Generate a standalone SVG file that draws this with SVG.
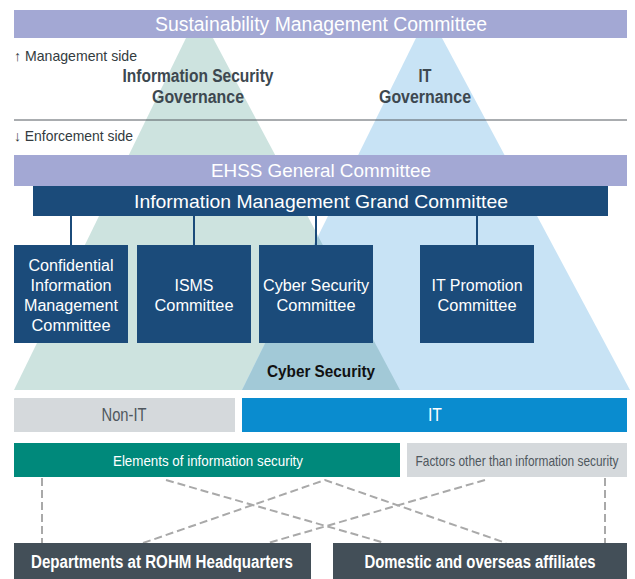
<svg xmlns="http://www.w3.org/2000/svg" width="635" height="579" viewBox="0 0 635 579">
<style>
text{font-family:"Liberation Sans",Arial,sans-serif;dominant-baseline:central;text-anchor:middle}
.w{fill:#ffffff}
.lav{fill:#a3a8d4}
.db{fill:#1b4b7a}
.gov{fill:#3d4850;font-weight:bold;font-size:17.5px}
.side{fill:#333b40;font-size:14.5px;text-anchor:start}
.box{fill:#ffffff;font-size:16px}
.conn{stroke:#1b4b7a;stroke-width:2;fill:none}
.dash{stroke:#a9a9a9;stroke-width:2;stroke-dasharray:8 4;fill:none}
</style>
<g id="background">
<polygon points="186,38 213,38 400,390 14,390" fill="#cde3df"/>
<polygon points="416,38 442,38 630,390 242,390" fill="#c8e3f5"/>
<polygon points="318,236 400,390 242,390" fill="#a2c9d7"/>
</g>
<g id="sustainability">
<rect x="14" y="10" width="613" height="28" class="lav"/>
<text x="321" y="24" class="w" font-size="19.5" textLength="332" lengthAdjust="spacingAndGlyphs">Sustainability Management Committee</text>
</g>
<g id="labels">
<text x="14" y="56" class="side" textLength="123" lengthAdjust="spacingAndGlyphs">↑ Management side</text>
<text x="198" y="76" class="gov" textLength="151" lengthAdjust="spacingAndGlyphs">Information Security</text>
<text x="198" y="97" class="gov" textLength="92" lengthAdjust="spacingAndGlyphs">Governance</text>
<text x="425" y="76" class="gov" textLength="13" lengthAdjust="spacingAndGlyphs">IT</text>
<text x="425" y="97" class="gov" textLength="92" lengthAdjust="spacingAndGlyphs">Governance</text>
<line x1="14" y1="120" x2="627" y2="120" stroke="#555b60" stroke-width="1"/>
<text x="14" y="136" class="side" textLength="119" lengthAdjust="spacingAndGlyphs">↓ Enforcement side</text>
</g>
<g id="ehss">
<rect x="14" y="155" width="613" height="31" class="lav"/>
<text x="321" y="170" class="w" font-size="18.5" textLength="220" lengthAdjust="spacingAndGlyphs">EHSS General Committee</text>
</g>
<g id="grand">
<rect x="33" y="186" width="575" height="30" class="db"/>
<text x="321" y="201" class="w" font-size="18.5" textLength="374" lengthAdjust="spacingAndGlyphs">Information Management Grand Committee</text>
</g>
<g id="connectors">
<line x1="71" y1="216" x2="71" y2="245" class="conn"/>
<line x1="194" y1="216" x2="194" y2="245" class="conn"/>
<line x1="316" y1="216" x2="316" y2="245" class="conn"/>
<line x1="477" y1="216" x2="477" y2="245" class="conn"/>
<line x1="42" y1="478" x2="42" y2="543" class="dash"/>
<line x1="605" y1="478" x2="605" y2="543" class="dash"/>
<line x1="166" y1="480" x2="385" y2="543" class="dash"/>
<polyline points="143,543 325,480 506,543" class="dash"/>
<line x1="485" y1="480" x2="268" y2="543" class="dash"/>
</g>
<g id="confidential">
<rect x="14" y="245" width="114" height="98" class="db"/>
<text x="71" y="265" class="box" textLength="85" lengthAdjust="spacingAndGlyphs">Confidential</text>
<text x="71" y="285" class="box" textLength="81" lengthAdjust="spacingAndGlyphs">Information</text>
<text x="71" y="305" class="box" textLength="94" lengthAdjust="spacingAndGlyphs">Management</text>
<text x="71" y="325" class="box" textLength="79" lengthAdjust="spacingAndGlyphs">Committee</text>
</g>
<g id="isms">
<rect x="137" y="245" width="114" height="98" class="db"/>
<text x="194" y="285" class="box" textLength="39" lengthAdjust="spacingAndGlyphs">ISMS</text>
<text x="194" y="305" class="box" textLength="79" lengthAdjust="spacingAndGlyphs">Committee</text>
</g>
<g id="cyber">
<rect x="259" y="245" width="114" height="98" class="db"/>
<text x="316" y="285" class="box" textLength="106" lengthAdjust="spacingAndGlyphs">Cyber Security</text>
<text x="316" y="305" class="box" textLength="79" lengthAdjust="spacingAndGlyphs">Committee</text>
</g>
<g id="itpromo">
<rect x="420" y="245" width="114" height="98" class="db"/>
<text x="477" y="285" class="box" textLength="91" lengthAdjust="spacingAndGlyphs">IT Promotion</text>
<text x="477" y="305" class="box" textLength="79" lengthAdjust="spacingAndGlyphs">Committee</text>
</g>
<g id="cyberlabel">
<text x="321" y="371" fill="#111111" font-weight="bold" font-size="16.5" textLength="108" lengthAdjust="spacingAndGlyphs">Cyber Security</text>
</g>
<g id="nonit">
<rect x="14" y="398" width="221" height="34" fill="#d5d9dc"/>
<text x="124" y="415" fill="#4f575e" font-size="17.5" textLength="45" lengthAdjust="spacingAndGlyphs">Non-IT</text>
</g>
<g id="it">
<rect x="242" y="398" width="385" height="34" fill="#0a8ccf"/>
<text x="435" y="415" class="w" font-size="17.5" textLength="14" lengthAdjust="spacingAndGlyphs">IT</text>
</g>
<g id="elements">
<rect x="14" y="443" width="386" height="34" fill="#00897b"/>
<text x="208" y="461" class="w" font-size="14.5" textLength="190" lengthAdjust="spacingAndGlyphs">Elements of information security</text>
</g>
<g id="factors">
<rect x="407" y="443" width="220" height="34" fill="#d5d9dc"/>
<text transform="translate(517,461) scale(0.85,1)" x="0" y="0" fill="#4f575e" font-size="14">Factors other than information security</text>
</g>
<g id="departments">
<rect x="14" y="543" width="297" height="36" fill="#434f58"/>
<text x="162" y="562" class="w" font-size="17.5" font-weight="bold" textLength="262" lengthAdjust="spacingAndGlyphs">Departments at ROHM Headquarters</text>
</g>
<g id="affiliates">
<rect x="333" y="543" width="294" height="36" fill="#434f58"/>
<text x="480" y="562" class="w" font-size="17.5" font-weight="bold" textLength="231" lengthAdjust="spacingAndGlyphs">Domestic and overseas affiliates</text>
</g>
</svg>
